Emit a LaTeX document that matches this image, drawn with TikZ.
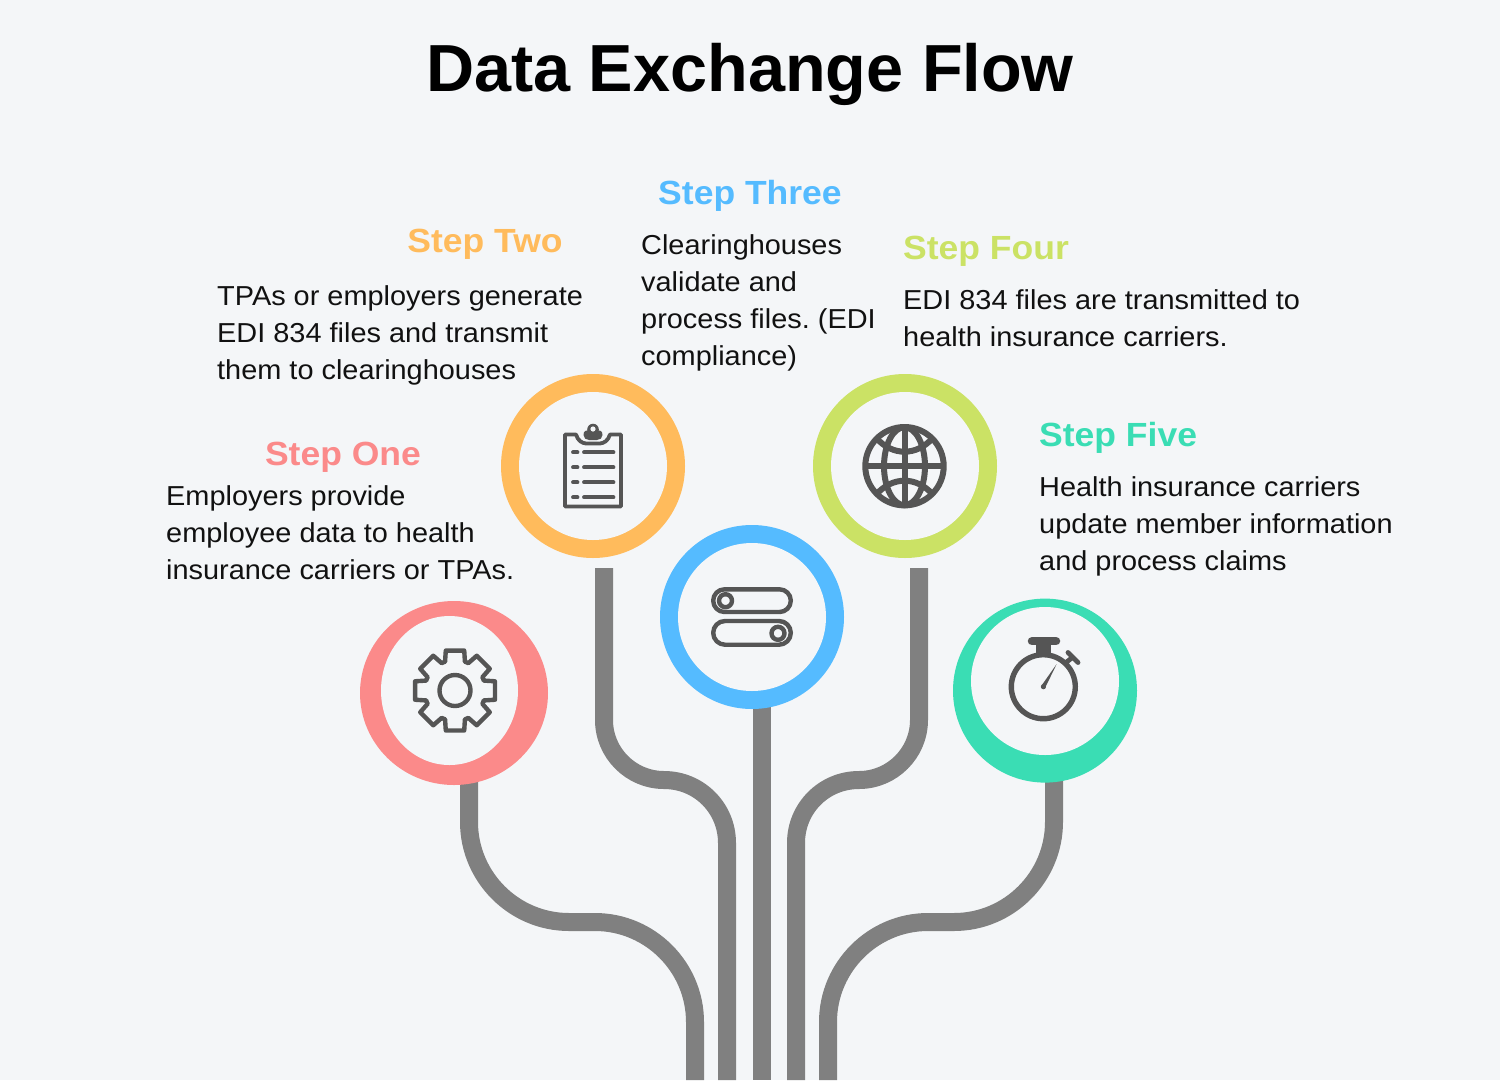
\documentclass[tikz,border=0pt]{standalone}
\usepackage{fontspec}
\setmainfont{Liberation Sans}
\newfontfamily\bodyfont[FakeStretch=1.055]{Liberation Sans}
\newfontfamily\headfont[FakeStretch=1.06]{Liberation Sans}
\usetikzlibrary{shapes.geometric}
\definecolor{bgc}{HTML}{F4F6F8}
\definecolor{redc}{HTML}{FB8A8A}
\definecolor{orac}{HTML}{FFBB5C}
\definecolor{bluc}{HTML}{55BBFF}
\definecolor{grec}{HTML}{CBE265}
\definecolor{teac}{HTML}{3ADDB4}
\definecolor{pipec}{HTML}{808080}
\definecolor{iconc}{HTML}{555555}
\definecolor{txtc}{HTML}{111111}
\tikzset{
  pipe/.style={draw=pipec,line width=18pt},
  ring/.style={circle,inner sep=0pt,minimum size=184pt},
  hole/.style={circle,inner sep=0pt,minimum size=148pt,fill=bgc},
  ico/.style={draw=iconc,line width=4.4pt,line join=round,line cap=round},
  body/.style={inner sep=0pt,anchor=north west,align=left,text=txtc,font=\bodyfont\fontsize{27.4}{37}\selectfont},
  head/.style={inner sep=0pt,font=\headfont\bfseries\fontsize{33.5}{40}\selectfont},
}
\frenchspacing
\begin{document}
\begin{tikzpicture}[x=1pt,y=-1pt]
\useasboundingbox (0,0) rectangle (1500,1080);
\fill[bgc] (0,0) rectangle (1500,1080);
\coordinate (a1) at (469,780); \coordinate (e1) at (695,1080);
\coordinate (a2) at (604,568); \coordinate (e2) at (727,1080);
\coordinate (a3) at (762,700); \coordinate (e3) at (762,1080);
\coordinate (a4) at (919,568); \coordinate (e4) at (796,1080);
\coordinate (a5) at (1054,780); \coordinate (e5) at (828,1080);
\draw[pipe] (a1) -- (469,822) .. controls (469,877) and (514,922) .. (569,922) -- (595,922) .. controls (650,922) and (695,967) .. (695,1022) -- (e1);
\draw[pipe] (a2) -- (604,720) .. controls (604,753) and (631,780) .. (664,780) .. controls (699,780) and (727,808) .. (727,843) -- (e2);
\draw[pipe] (a3) -- (e3);
\draw[pipe] (a4) -- (919,720) .. controls (919,753) and (892,780) .. (859,780) .. controls (824,780) and (796,808) .. (796,843) -- (e4);
\draw[pipe] (a5) -- (1054,822) .. controls (1054,877) and (1009,922) .. (954,922) -- (928,922) .. controls (873,922) and (828,967) .. (828,1022) -- (e5);
% rings
\node[ring,fill=redc,ellipse,minimum width=188pt,minimum height=184pt] (c1) at (454,693) {};
\node[hole,ellipse,minimum width=137pt,minimum height=149pt] (h1) at (449.5,690.5) {};
\node[ring,fill=orac] (c2) at (593,466) {};
\node[hole] (h2) at (593,466) {};
\node[ring,fill=bluc] (c3) at (752,617) {};
\node[hole] (h3) at (752,617) {};
\node[ring,fill=grec] (c4) at (905,466) {};
\node[hole] (h4) at (905,466) {};
\node[ring,fill=teac] (c5) at (1045,690.6) {};
\node[hole] (h5) at (1045,681) {};
% gear
\begin{scope}[shift={(455,690.5)}]
\draw[ico] (-19:30.5) \foreach \a in {0,45,...,315}{ -- (\a-19:30.5) -- (\a-13:41) -- (\a+13:41) -- (\a+19:30.5)} -- cycle;
\draw[ico] (0,0) circle (15.5);
\end{scope}
% clipboard
\draw[iconc,line width=3.8pt,line join=round] (565,434.5) -- (576,434.5) .. controls (578,441) and (582,443) .. (586,443.5) -- (600,443.5) .. controls (604,443) and (608,441) .. (610,434.5) -- (621,434.5) -- (621,506.5) -- (565,506.5) -- cycle;
\fill[iconc] (593,429.5) circle (5.8);
\fill[iconc] (583.5,435) .. controls (583.5,431) and (586,430) .. (589,430) -- (597,430) .. controls (600,430) and (602.5,431) .. (602.5,435) .. controls (602.5,438) and (600,440) .. (597,440) -- (589,440) .. controls (586,440) and (583.5,438) .. (583.5,435) -- cycle;
\fill[bgc] (593,429) circle (2.6);
\foreach \y in {452.3,467.3,482.3,497.3}{
  \draw[iconc,line width=3.8pt,line cap=round] (573,\y) -- (577.5,\y);
  \draw[iconc,line width=3.8pt,line cap=round] (584,\y) -- (613.5,\y);
}
% toggles
\draw[ico,rounded corners=11.3pt] (713.2,589.3) rectangle (790.8,612);
\draw[ico,rounded corners=11.8pt] (713.2,621) rectangle (790.8,644.7);
\draw[ico] (725.5,600.7) circle (6.5);
\draw[ico] (778,633.3) circle (6.5);
% globe
\begin{scope}[shift={(904.5,466.2)}]
\draw[iconc,line width=6pt] (0,0) circle (39.2);
\draw[iconc,line width=6pt] (-39,0) -- (39,0);
\draw[iconc,line width=6pt] (0,-39) -- (0,39);
\draw[iconc,line width=6pt] (0,0) ellipse (20.5 and 39);
\draw[iconc,line width=6pt] (-28,-28) .. controls (-12,-10) and (12,-10) .. (28,-28);
\draw[iconc,line width=6pt] (-28,28) .. controls (-12,10) and (12,10) .. (28,28);
\end{scope}
% stopwatch
\draw[iconc,line width=5.4pt] (1043.3,686.7) circle (32);
\draw[iconc,line width=8.5pt,line cap=round] (1032,641.2) -- (1056,641.2);
\fill[iconc] (1035.7,641) rectangle (1051,656);
\draw[iconc,line width=4.8pt,line cap=round] (1068,652.5) -- (1078,662.5);
\draw[iconc,line width=4.8pt] (1064,664) -- (1073,657);
\fill[iconc] (1056.7,664) -- (1045.2,687.6) -- (1041.5,685.6) -- cycle;
\fill[iconc] (1043.4,686.7) circle (2.6);
% text
\node[inner sep=0pt,font=\bfseries\fontsize{66.6}{72}\selectfont,text=black] (title) at (750,74) {Data Exchange Flow};
\node[head,text=redc] (s1) at (343,457) {Step One};
\node[body] (b1) at (166,485) {Employers provide\\employee data to health\\insurance carriers or TPAs.};
\node[head,text=orac] (s2) at (485,244) {Step Two};
\node[body] (b2) at (217,285) {TPAs or employers generate\\EDI 834 files and transmit\\them to clearinghouses};
\node[head,text=bluc] (s3) at (750,196) {Step Three};
\node[body] (b3) at (641,234) {Clearinghouses\\validate and\\process files. (EDI\\compliance)};
\node[head,text=grec,anchor=west] (s4) at (903,251) {Step Four};
\node[body] (b4) at (903,289) {EDI 834 files are transmitted to\\health insurance carriers.};
\node[head,text=teac,anchor=west] (s5) at (1039,438) {Step Five};
\node[body] (b5) at (1039,476) {Health insurance carriers\\update member information\\and process claims};
\end{tikzpicture}
\end{document}
